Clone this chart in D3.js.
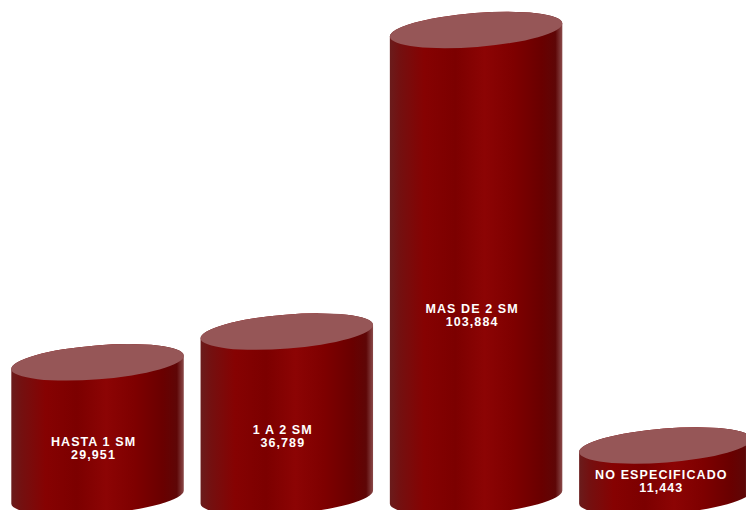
<!DOCTYPE html>
<html>
<head>
<meta charset="utf-8">
<script src="https://cdn.jsdelivr.net/npm/d3@7"></script>
<style>
  body { margin: 0; background: #fff; }
  svg { display: block; }
</style>
</head>
<body>
<div id="chart"></div>
<script>
// data
let categories = ["HASTA 1 SM", "1 A 2 SM", "MAS DE 2 SM", "NO ESPECIFICADO"];
let values = [29951, 36789, 103884, 11443];
let valueLabels = ["29,951", "36,789", "103,884", "11,443"];

let width = 746;
let height = 510;

let svg = d3.select("#chart")
    .append("svg")
    .attr("width", width)
    .attr("height", height);

// horizontal shading of the cylinder body
let defs = svg.append("defs");
let grad = defs.append("linearGradient")
    .attr("id", "bodyGrad")
    .attr("x1", "0%").attr("x2", "100%")
    .attr("y1", "0%").attr("y2", "0%");
[
    ["0%", "#6a1c1c"],
    ["6%", "#741010"],
    ["20%", "#860202"],
    ["38%", "#7c0000"],
    ["55%", "#8c0404"],
    ["72%", "#7e0000"],
    ["88%", "#690000"],
    ["96%", "#5e0606"],
    ["100%", "#8a4a4a"]
].forEach(function(s) {
    grad.append("stop").attr("offset", s[0]).attr("stop-color", s[1]);
});

let xScale = d3.scaleBand()
    .domain(categories)
    .range([2.9, 760])
    .paddingInner(0.086)
    .paddingOuter(0.043);

let yScale = d3.scaleLinear()
    .domain([0, d3.max(values)])
    .range([497, 30]);

let rx = xScale.bandwidth() / 2;
let ry = 17;
let tilt = -4.5; // degrees, top ellipse leans up to the right
let dx = rx * Math.cos(tilt * Math.PI / 180);
let dy = rx * Math.sin(tilt * Math.PI / 180);

let data = categories.map(function(c, i) {
    return { name: c, value: values[i], label: valueLabels[i] };
});

let bars = svg.selectAll(".cyl")
    .data(data)
    .enter().append("g")
    .attr("class", "cyl");

// body
bars.append("path")
    .attr("fill", "url(#bodyGrad)")
    .attr("d", function(d) {
        let cx = xScale(d.name) + rx;
        let top = yScale(d.value);
        let base = yScale(0);
        return "M" + (cx - dx) + "," + (top - dy) +
            " L" + (cx - dx) + "," + (base - dy) +
            " A" + rx + "," + ry + " " + tilt + " 0 0 " + (cx + dx) + "," + (base + dy) +
            " L" + (cx + dx) + "," + (top + dy) +
            " A" + rx + "," + ry + " " + tilt + " 0 0 " + (cx - dx) + "," + (top - dy) + " Z";
    });

// top ellipse
bars.append("ellipse")
    .attr("cx", function(d) { return xScale(d.name) + rx; })
    .attr("cy", function(d) { return yScale(d.value); })
    .attr("rx", rx)
    .attr("ry", ry)
    .attr("fill", "#965657")
    .attr("transform", function(d) {
        return "rotate(" + tilt + "," + (xScale(d.name) + rx) + "," + yScale(d.value) + ")";
    });

// labels, about 40% of the way up the body
let labels = bars.append("text")
    .attr("text-anchor", "middle")
    .attr("fill", "#fff")
    .style("font-family", "'Liberation Sans', Arial, Helvetica, sans-serif")
    .style("font-weight", "bold")
    .style("font-size", "12.5px")
    .style("letter-spacing", "1.1px");

labels.append("tspan")
    .attr("x", function(d) { return xScale(d.name) + rx - 4; })
    .attr("y", function(d) { return yScale(d.value * 0.4) + 3; })
    .text(function(d) { return d.name; });

labels.append("tspan")
    .attr("x", function(d) { return xScale(d.name) + rx - 4; })
    .attr("dy", 13)
    .text(function(d) { return d.label; });
</script>
</body>
</html>
